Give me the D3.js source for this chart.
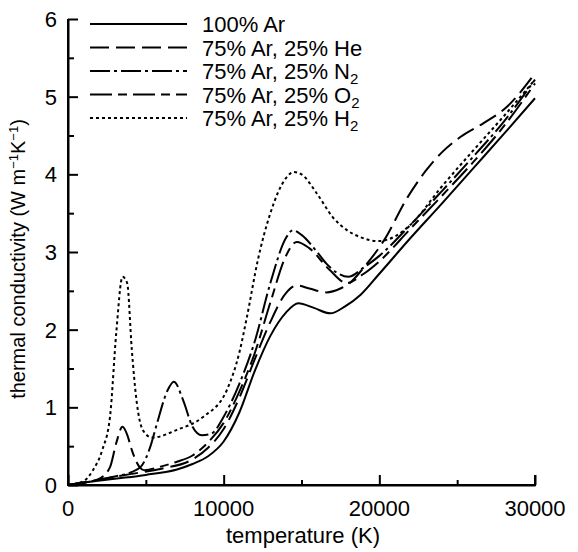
<!DOCTYPE html>
<html><head><meta charset="utf-8">
<script src="https://cdn.jsdelivr.net/npm/d3@7"></script>
<style>body{margin:0;background:#fff}svg text{font-family:"Liberation Sans",Arial,sans-serif;fill:#000}</style>
</head><body><svg id="c" width="578" height="552"></svg>
<script>
// temperature (K), thermal conductivity (W m^-1 K^-1)
const ar = [[0,0],[1000,0.03],[3000,0.08],[5000,0.13],[7000,0.2],[8000,0.27],[9000,0.37],[10000,0.56],[11000,0.93],[12000,1.47],[13000,1.92],[14000,2.22],[14800,2.34],[15800,2.28],[16850,2.21],[17800,2.3],[18800,2.45],[20000,2.72],[22000,3.18],[24000,3.62],[26000,4.07],[28000,4.52],[30000,4.98]];
const he = [[0,0],[2000,0.07],[4000,0.14],[6000,0.21],[8000,0.33],[9000,0.48],[10000,0.72],[11000,1.12],[12000,1.62],[13000,2.1],[14000,2.47],[14700,2.57],[15500,2.53],[16600,2.48],[17500,2.53],[18100,2.6],[19000,2.8],[20300,3.15],[21800,3.7],[23000,4.05],[24000,4.28],[25200,4.48],[26700,4.66],[28200,4.87],[30000,5.3]];
const n2 = [[0,0],[1000,0.03],[3000,0.11],[4000,0.16],[4700,0.24],[5300,0.5],[5700,0.78],[6400,1.22],[6800,1.33],[7400,1.09],[8000,0.75],[8600,0.64],[9200,0.66],[10000,0.88],[11000,1.3],[12000,1.85],[13000,2.6],[14000,3.18],[14450,3.28],[15000,3.22],[16000,3.0],[16600,2.85],[17300,2.73],[18000,2.68],[19000,2.8],[20000,2.95],[22000,3.35],[24000,3.78],[26000,4.22],[28000,4.68],[30000,5.22]];
const o2 = [[0,0],[1000,0.03],[2000,0.08],[2700,0.23],[3100,0.54],[3500,0.75],[3800,0.65],[4100,0.45],[4600,0.23],[4900,0.19],[6000,0.24],[7000,0.3],[8000,0.38],[9000,0.55],[10000,0.8],[11000,1.2],[12000,1.7],[13000,2.35],[14000,2.95],[14700,3.13],[15500,3.05],[16800,2.77],[17900,2.6],[19000,2.72],[20000,2.88],[22000,3.3],[24000,3.72],[26000,4.15],[28000,4.62],[30000,5.17]];
const h2 = [[0,0],[1000,0.05],[1600,0.19],[2200,0.45],[2700,0.88],[3100,1.96],[3500,2.68],[3800,2.6],[4100,1.74],[4400,1.09],[4800,0.71],[5400,0.61],[7000,0.71],[8700,0.88],[10200,1.22],[11000,1.7],[11500,2.17],[12200,2.9],[13000,3.5],[14000,3.95],[14500,4.03],[15000,4.0],[16000,3.75],[17000,3.45],[18000,3.27],[18800,3.19],[19900,3.14],[21000,3.2],[22000,3.35],[24000,3.84],[26000,4.3],[28000,4.75],[30000,5.22]];
const seriesNames = ["100% Ar","75% Ar, 25% He","75% Ar, 25% N","75% Ar, 25% O","75% Ar, 25% H"];
const seriesSubs = ["","","2","2","2"];
const xTicks = [0,10000,20000,30000];
const yTicks = [0,1,2,3,4,5,6];

const dashes = ["none","19,7","20,4,3,4","22,6,9,6","3,3"];
const series = [ar,he,n2,o2,h2];

const svg = d3.select("#c");
const x = d3.scaleLinear().domain([0,30000]).range([68,535]);
const y = d3.scaleLinear().domain([0,6]).range([485,19]);

const g = svg.append("g");
const xAxis = d3.axisBottom(x).tickValues(d3.range(0,30001,5000)).tickSizeInner(0).tickSizeOuter(0).tickFormat("");
const yAxis = d3.axisLeft(y).tickValues(d3.range(0,6.01,0.5)).tickSizeInner(0).tickSizeOuter(0).tickFormat("");
const xa = g.append("g").attr("transform","translate(0,485)").call(xAxis);
const ya = g.append("g").attr("transform","translate(68,0)").call(yAxis);
[xa,ya].forEach(a=>{a.select(".domain").attr("stroke","#000").attr("stroke-width",2);});
xa.selectAll(".tick line").attr("y2",d=>d%10000===0?-10:-5).attr("stroke","#000").attr("stroke-width",2);
ya.selectAll(".tick line").attr("x2",d=>Math.abs(d-Math.round(d))<1e-6?10:6).attr("stroke","#000").attr("stroke-width",2);
g.append("path").attr("d",`M68,${y(6)}V485H535V475`).attr("fill","none").attr("stroke","#000").attr("stroke-width",2);

g.selectAll(".xl").data(xTicks).join("text").attr("x",d=>x(d)).attr("y",516)
  .attr("text-anchor","middle").attr("font-size",22).text(d=>d);
g.selectAll(".yl").data(yTicks).join("text").attr("x",57).attr("y",d=>y(d)+8)
  .attr("text-anchor","end").attr("font-size",22).text(d=>d);

g.append("text").attr("x",303).attr("y",543).attr("text-anchor","middle").attr("font-size",22).text("temperature (K)");
const yt = g.append("text").attr("transform","translate(25,259) rotate(-90)").attr("text-anchor","middle").attr("font-size",20);
yt.append("tspan").text("thermal conductivity (W m");
yt.append("tspan").attr("dy",-7).attr("font-size",13).text("−1");
yt.append("tspan").attr("dy",7).text("K");
yt.append("tspan").attr("dy",-7).attr("font-size",13).text("−1");
yt.append("tspan").attr("dy",7).text(")");

const line = d3.line().x(d=>x(d[0])).y(d=>y(d[1])).curve(d3.curveMonotoneX);
series.forEach((s,i)=>{
  g.append("path").attr("d",line(s)).attr("fill","none").attr("stroke","#000")
    .attr("stroke-width",2).attr("stroke-dasharray",dashes[i]);
});

const ly = d3.scaleLinear().domain([0,4]).range([24,118]);
seriesNames.forEach((n,i)=>{
  g.append("line").attr("x1",90).attr("x2",187).attr("y1",ly(i)).attr("y2",ly(i))
    .attr("stroke","#000").attr("stroke-width",2).attr("stroke-dasharray",dashes[i]);
  const t = g.append("text").attr("x",202).attr("y",ly(i)+8).attr("font-size",22);
  t.append("tspan").text(n);
  if(seriesSubs[i]) t.append("tspan").attr("dy",5).attr("font-size",15).text(seriesSubs[i]);
});
</script></body></html>
